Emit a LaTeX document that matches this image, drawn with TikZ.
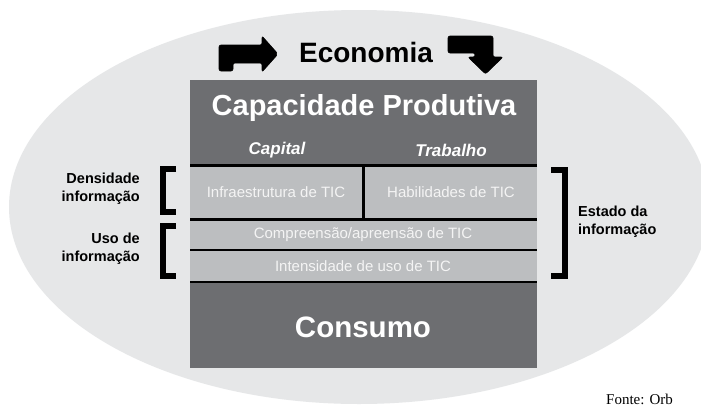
\documentclass[tikz,border=0pt]{standalone}
\usepackage{fontspec}
\setmainfont{Liberation Sans}
\newfontfamily\serifont{Liberation Serif}
\definecolor{ellgray}{HTML}{E6E7E8}
\definecolor{darkbox}{HTML}{6D6E71}
\definecolor{rowgray}{HTML}{BCBEC0}
\definecolor{rowtext}{HTML}{F4F4F4}
\begin{document}
\begin{tikzpicture}[x=1pt,y=-1pt,
  secdark/.style={fill=darkbox,draw=none},
  secrow/.style={fill=rowgray,draw=none},
  bigtitle/.style={text=white,font=\bfseries\fontsize{29}{31}\selectfont},
  subtitle/.style={text=white,font=\bfseries\itshape\fontsize{17}{19}\selectfont},
  rowlabel/.style={text=rowtext,font=\fontsize{15}{17}\selectfont},
  sidelabel/.style={text=black,font=\bfseries\fontsize{14.5}{18}\selectfont,inner sep=0pt},
  bracket/.style={draw=black,line width=6pt,line cap=butt,line join=miter},
  bentarrow/.style={fill=black,draw=black,line width=0.6pt,rounded corners=2pt}]
\useasboundingbox (0,0) rectangle (701,407);
\clip (0,0) rectangle (701,407);
\fill[white] (0,0) rectangle (701,407);
% background ellipse
\fill[ellgray] (359,207) ellipse [x radius=350, y radius=197];
% box body (black gives separator lines)
\fill[black] (190,80) rectangle (537,368);
\fill[secdark] (190,80) rectangle (537,164);
\fill[secrow] (190,167) rectangle (362,218);
\fill[secrow] (365,167) rectangle (537,218);
\fill[secrow] (190,220.5) rectangle (537,248.5);
\fill[secrow] (190,251) rectangle (537,280.5);
\fill[secdark] (190,283) rectangle (537,368);
% texts in box
\node[bigtitle] (cap) at (364,108) {Capacidade Produtiva};
\node[subtitle] (capital) at (277,150) {Capital};
\node[subtitle] (trab) at (451,150) {Trabalho};
\node[rowlabel] (infra) at (276,192.5) {Infraestrutura de TIC};
\node[rowlabel] (hab) at (451,192.5) {Habilidades de TIC};
\node[rowlabel] (comp) at (363,235) {Compreensão/apreensão de TIC};
\node[rowlabel] (int) at (363,266.5) {Intensidade de uso de TIC};
\node[bigtitle,font=\bfseries\fontsize{29.5}{31}\selectfont] (cons) at (363,327) {Consumo};
% economia
\node[font=\bfseries\fontsize{28}{30}\selectfont] (eco) at (366,52) {Economia};
\draw[bentarrow] (219,45) -- (262,45) -- (262,36) -- (278,54) -- (262,72) -- (262,63) -- (233,63) -- (233,71) -- (219,71) -- cycle;
\draw[bentarrow] (448,36) -- (493,36) -- (493,57) -- (503,57) -- (485.5,74) -- (468,57) -- (475,57) -- (475,53) -- (448,53) -- cycle;
% brackets
\draw[bracket] (176,169) -- (163,169) -- (163,212) -- (176,212);
\draw[bracket] (176,226) -- (163,226) -- (163,276) -- (176,276);
\draw[bracket] (551,170) -- (565,170) -- (565,276) -- (551,276);
% side labels
\node[sidelabel,align=right,anchor=east] (dens) at (140,189) {Densidade\\informação};
\node[sidelabel,align=right,anchor=east] (uso) at (140,249) {Uso de\\informação};
\node[sidelabel,align=left,anchor=west] (est) at (578,222) {Estado da\\informação};
% source
\node[anchor=base west,inner sep=0pt,font=\serifont\fontsize{15}{17}\selectfont] (fonte) at (606,404.5) {Fonte: Orb};
\end{tikzpicture}
\end{document}
